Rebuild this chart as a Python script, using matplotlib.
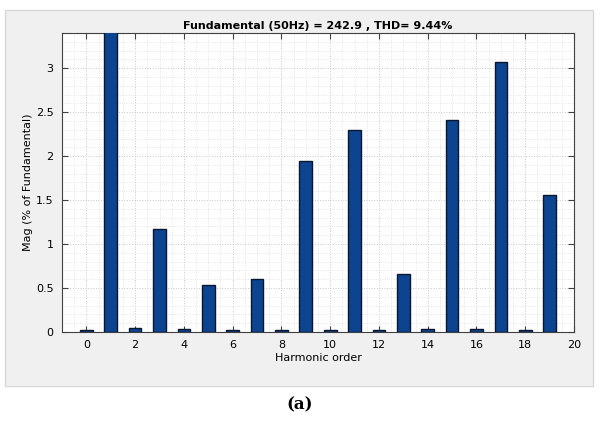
import matplotlib
matplotlib.use("Agg")
import matplotlib.pyplot as plt
from matplotlib.patches import Rectangle
from matplotlib.ticker import MultipleLocator

harmonic_order = list(range(20))
magnitude = [0.02, 100.0, 0.04, 1.17, 0.035, 0.53, 0.025, 0.60, 0.02, 1.95,
             0.025, 2.30, 0.025, 0.66, 0.03, 2.41, 0.03, 3.07, 0.02, 1.56]
title_text = "Fundamental (50Hz) = 242.9 , THD= 9.44%"
xlabel_text = "Harmonic order"
ylabel_text = "Mag (% of Fundamental)"
caption_text = "(a)"

fig = plt.figure(figsize=(6.01, 4.21), dpi=100)
fig.patch.set_facecolor("white")
fig.patches.append(Rectangle((5/601, 1 - 386/421), 588/601, 376/421,
                             transform=fig.transFigure, facecolor="#f0f0f0",
                             edgecolor="#d8d8d8", linewidth=1.0, zorder=-10))

ax = fig.add_axes([62/601, 1 - 332/421, 512/601, 299/421])
ax.set_zorder(1)
ax.set_facecolor("white")
ax.bar(harmonic_order, magnitude, width=0.52, color="#0d4490",
       edgecolor="#08162e", linewidth=1.0, zorder=3)
ax.set_xlim(-1, 20)
ax.set_ylim(0, 3.4)
ax.xaxis.set_major_locator(MultipleLocator(2))
ax.xaxis.set_minor_locator(MultipleLocator(0.5))
ax.yaxis.set_minor_locator(MultipleLocator(0.1))
ax.set_yticks([0, 0.5, 1, 1.5, 2, 2.5, 3])
ax.set_yticklabels(["0", "0.5", "1", "1.5", "2", "2.5", "3"])
ax.grid(which="major", color="#c8c8c8", linestyle=":", linewidth=0.7, zorder=0)
ax.grid(which="minor", color="#e0e0e0", linestyle=":", linewidth=0.6, zorder=0)
ax.set_axisbelow(True)
ax.tick_params(which="major", direction="in", length=4, top=True, right=True,
               labelsize=8, color="#404040", pad=6)
ax.tick_params(which="minor", length=0)
for s in ax.spines.values():
    s.set_color("#404040")
    s.set_linewidth(0.8)

ax.set_title(title_text, fontsize=8, fontweight="bold", pad=3)
ax.set_xlabel(xlabel_text, fontsize=8, labelpad=2)
ax.set_ylabel(ylabel_text, fontsize=8, labelpad=2)

fig.text(300/601, 1 - 405/421, caption_text, fontsize=12, fontweight="bold",
         family="DejaVu Serif", ha="center", va="center")

fig.savefig("out.png", dpi=100, facecolor=fig.get_facecolor())
